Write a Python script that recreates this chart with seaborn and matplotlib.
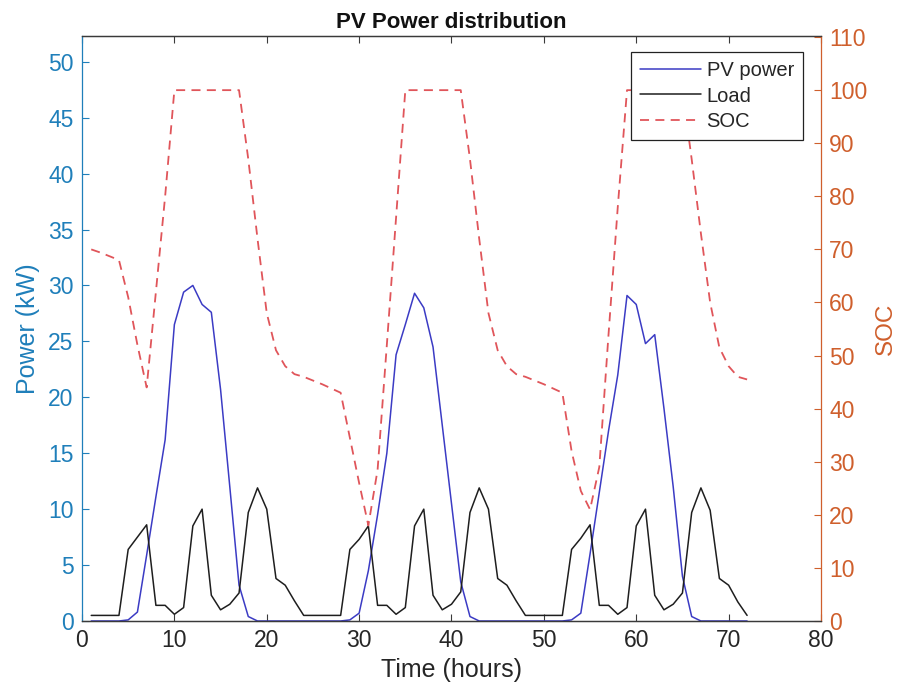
import numpy as np
import pandas as pd
import matplotlib
matplotlib.use("Agg")
import matplotlib.pyplot as plt
import seaborn as sns

# ---------------- data ----------------
hours = list(range(1, 73))

pv_power = [
    0, 0, 0, 0, 0.1, 0.8, 5.9, 11.1, 16.2, 26.5, 29.4, 30.0,
    28.3, 27.6, 20.7, 12.0, 3.2, 0.4, 0, 0, 0, 0, 0, 0,
    0, 0, 0, 0, 0.1, 0.7, 4.5, 9.5, 15.0, 23.8, 26.5, 29.3,
    28.0, 24.5, 17.5, 10.5, 3.5, 0.4, 0, 0, 0, 0, 0, 0,
    0, 0, 0, 0, 0.1, 0.7, 6.0, 11.5, 17.0, 22.0, 29.1, 28.3,
    24.8, 25.6, 19.0, 12.0, 4.0, 0.4, 0, 0, 0, 0, 0, 0,
]

load = [
    0.5, 0.5, 0.5, 0.5, 6.4, 7.5, 8.6, 1.4, 1.4, 0.6, 1.2, 8.5,
    10.0, 2.3, 1.0, 1.5, 2.5, 9.7, 11.9, 10.0, 3.8, 3.2, 1.8, 0.5,
    0.5, 0.5, 0.5, 0.5, 6.4, 7.3, 8.5, 1.4, 1.4, 0.6, 1.2, 8.5,
    10.0, 2.3, 1.0, 1.5, 2.6, 9.7, 11.9, 10.0, 3.8, 3.2, 1.8, 0.5,
    0.5, 0.5, 0.5, 0.5, 6.4, 7.4, 8.6, 1.4, 1.4, 0.6, 1.2, 8.5,
    10.0, 2.3, 1.0, 1.5, 2.5, 9.7, 11.9, 9.9, 3.8, 3.2, 1.7, 0.5,
]

soc = [
    70, 69.4, 68.7, 68, 61, 52, 44, 62, 80, 100, 100, 100,
    100, 100, 100, 100, 100, 87, 72, 58, 51, 48, 46.5, 46,
    45.3, 44.6, 43.8, 43, 34.5, 26, 18, 28.5, 52, 76, 100, 100,
    100, 100, 100, 100, 100, 87, 72, 58, 51, 48, 46.5, 46,
    45.3, 44.6, 43.8, 43, 32, 24.5, 21, 29, 54, 78, 100, 100,
    100, 100, 100, 100, 100, 87, 73, 60, 51.5, 48, 46, 45.5,
]

x_ticks = [0, 10, 20, 30, 40, 50, 60, 70, 80]
left_ticks = [0, 5, 10, 15, 20, 25, 30, 35, 40, 45, 50]
right_ticks = [0, 10, 20, 30, 40, 50, 60, 70, 80, 90, 100, 110]

df = pd.DataFrame({"Time": hours, "PV power": pv_power, "Load": load, "SOC": soc})

# ---------------- style ----------------
sns.set_style("white")
plt.rcParams["font.family"] = ["Liberation Sans", "DejaVu Sans"]

LEFT_C = "#1f7fba"
RIGHT_C = "#cf5f2c"
PV_C = "#3b3bc4"
LOAD_C = "#1e1e1e"
SOC_C = "#e0555a"
FRAME_C = "#3a3a3a"

fig = plt.figure(figsize=(9.03, 6.94), dpi=100)
ax = fig.add_axes([82 / 903, 1 - 621 / 694, (821 - 82) / 903, (621 - 36) / 694])
ax2 = ax.twinx()

sns.lineplot(data=df, x="Time", y="PV power", ax=ax, color=PV_C, lw=1.1, label="PV power", legend=False)
sns.lineplot(data=df, x="Time", y="Load", ax=ax, color=LOAD_C, lw=1.1, label="Load", legend=False)
sns.lineplot(data=df, x="Time", y="SOC", ax=ax2, color=SOC_C, lw=1.3, label="SOC", legend=False)
ax2.lines[0].set_dashes((5, 3.5))

ax.set_xlim(0, 80)
ax.set_ylim(0, 52.3)
ax2.set_ylim(0, 110.2)
ax.set_xticks(x_ticks)
ax.set_yticks(left_ticks)
ax2.set_yticks(right_ticks)

ax.tick_params(axis="x", direction="in", length=5, top=True, bottom=True,
               labelsize=16.5, colors=FRAME_C, labelcolor="#262626", pad=6)
ax.tick_params(axis="y", direction="in", length=5, labelsize=16.5,
               colors=LEFT_C, labelcolor=LEFT_C, pad=6)
ax2.tick_params(axis="y", direction="in", length=5, labelsize=16.5,
                colors=RIGHT_C, labelcolor=RIGHT_C, pad=6)

for a in (ax, ax2):
    for s in a.spines.values():
        s.set_linewidth(0.9)
        s.set_color(FRAME_C)
ax.spines["left"].set_color(LEFT_C)
ax2.spines["left"].set_visible(False)
ax.spines["right"].set_visible(False)
ax2.spines["right"].set_color(RIGHT_C)

ax.set_xlabel("Time (hours)", fontsize=18, color="#262626", labelpad=4)
ax.set_ylabel("Power (kW)", fontsize=18, color=LEFT_C, labelpad=6)
ax2.set_ylabel("SOC", fontsize=17.5, color=RIGHT_C, labelpad=5)
ax.set_title("PV Power distribution", fontsize=16, fontweight="bold", color="#111111", pad=6)

handles = ax.get_lines()[:2] + ax2.get_lines()[:1]
leg = ax2.legend(handles, [h.get_label() for h in handles], loc="upper right",
                 bbox_to_anchor=(803 / 903, 1 - 52 / 694), bbox_transform=fig.transFigure,
                 fontsize=14.5, frameon=True, fancybox=False, framealpha=1,
                 edgecolor="#222222", handlelength=3.0, handletextpad=0.3,
                 borderpad=0.45, labelspacing=0.32, borderaxespad=0)
leg.get_frame().set_linewidth(0.9)

fig.savefig("out.png", dpi=100, facecolor="white")
